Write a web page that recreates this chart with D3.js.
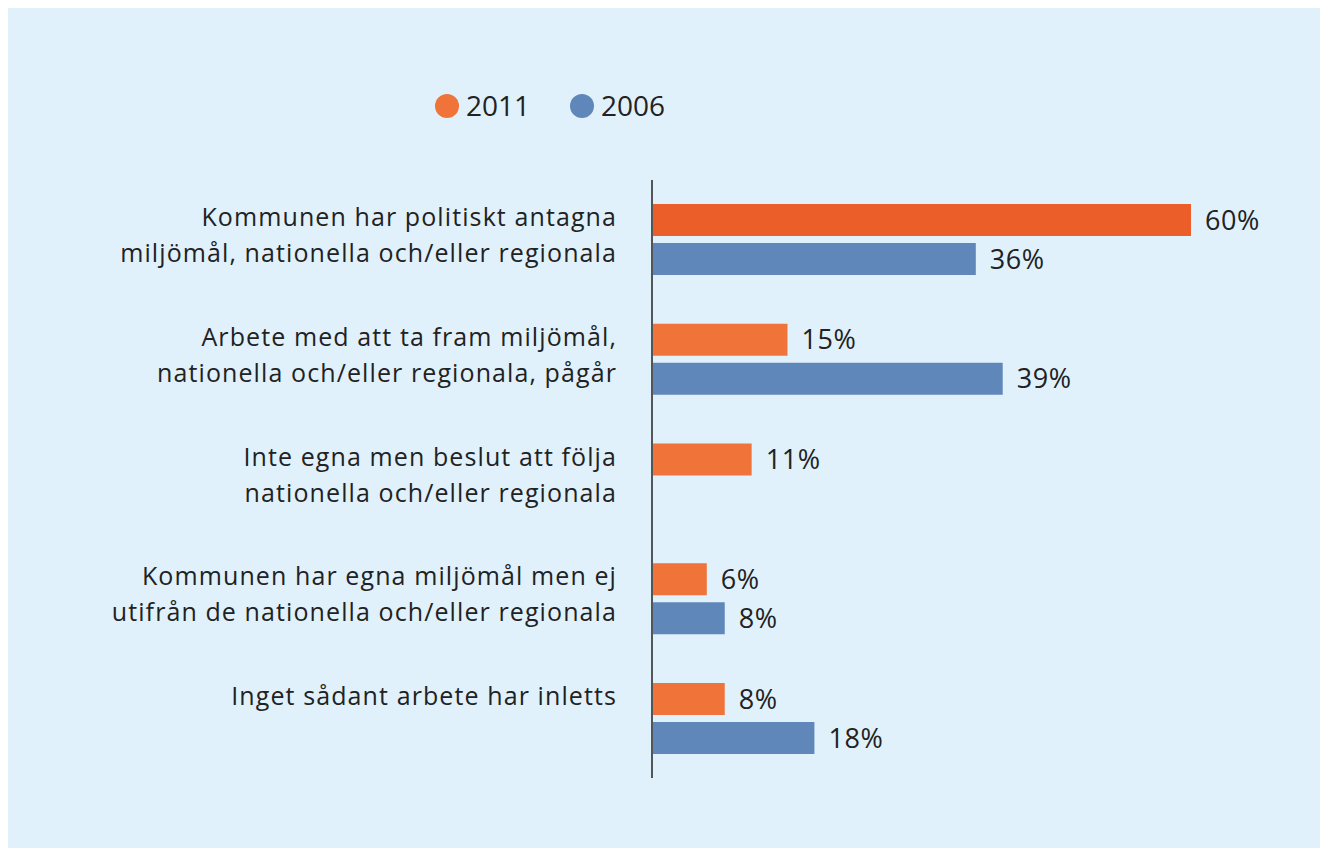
<!DOCTYPE html>
<html lang="sv">
<meta charset="utf-8">
<head>
    <script src='https://d3js.org/d3.v7.min.js'></script>
    <style>
        body { margin: 0; background: #fff; }
        text { font-family: "Open Sans", Lato, sans-serif; font-weight: 400; fill: #222; }
    </style>
</head>
<body>
</body>

<script>
    var width = 1328, height = 856;

    // data
    var categories = [
        ['Kommunen har politiskt antagna', 'miljömål, nationella och/eller regionala'],
        ['Arbete med att ta fram miljömål,', 'nationella och/eller regionala, pågår'],
        ['Inte egna men beslut att följa', 'nationella och/eller regionala'],
        ['Kommunen har egna miljömål men ej', 'utifrån de nationella och/eller regionala'],
        ['Inget sådant arbete har inletts']
    ];
    var series = ['2011', '2006'];
    var values2011 = [60, 15, 11, 6, 8];
    var values2006 = [36, 39, null, 8, 18];

    var colors = {'2011': '#f07339', '2006': '#5f87ba'};
    var highlight = '#eb5e29';

    var svg = d3.select('body').append('svg').attr('width', width).attr('height', height);

    // panel
    svg.append('rect').attr('x', 8).attr('y', 8).attr('width', 1312).attr('height', 840)
        .attr('fill', '#e0f1fc');

    var x = d3.scaleLinear().domain([0, 60]).range([653, 1191]);
    var y = d3.scaleBand().domain(d3.range(categories.length)).range([204, 204 + 5 * 119.75]);
    var ySub = d3.scaleBand().domain(series).range([0, 71]).paddingInner(0.18);

    var rows = [];
    categories.forEach(function(c, i) {
        rows.push({cat: i, s: '2011', v: values2011[i]});
        rows.push({cat: i, s: '2006', v: values2006[i]});
    });
    rows = rows.filter(function(d) { return d.v != null; });

    svg.selectAll('rect.bar').data(rows).join('rect')
        .attr('class', 'bar')
        .attr('x', x(0))
        .attr('y', function(d) { return y(d.cat) + ySub(d.s); })
        .attr('width', function(d) { return x(d.v) - x(0); })
        .attr('height', ySub.bandwidth())
        .attr('fill', function(d) { return (d.cat === 0 && d.s === '2011') ? highlight : colors[d.s]; });

    svg.selectAll('text.val').data(rows).join('text')
        .attr('class', 'val')
        .attr('x', function(d) { return x(d.v) + 14; })
        .attr('y', function(d) { return y(d.cat) + ySub(d.s) + ySub.bandwidth() / 2; })
        .attr('dy', '0.36em')
        .attr('font-size', 27)
        .attr('letter-spacing', 0.6)
        .text(function(d) { return d.v + '%'; });

    // category labels
    var lab = svg.selectAll('text.cat').data(categories).join('text')
        .attr('class', 'cat')
        .attr('text-anchor', 'end')
        .attr('font-size', 25)
        .attr('letter-spacing', 1.1)
        .attr('x', 617)
        .attr('y', function(d, i) { return y(i) + 22; });
    lab.selectAll('tspan').data(function(d) { return d; }).join('tspan')
        .attr('x', 617)
        .attr('dy', function(d, j) { return j === 0 ? 0 : 36; })
        .text(function(d) { return d; });

    // axis line
    svg.append('line').attr('x1', 652).attr('x2', 652).attr('y1', 180).attr('y2', 778)
        .attr('stroke', '#222').attr('stroke-width', 1.5);

    // legend
    var legX = [447, 582];
    var leg = svg.selectAll('g.leg').data(series).join('g')
        .attr('class', 'leg')
        .attr('transform', function(d, i) { return 'translate(' + legX[i] + ',106)'; });
    leg.append('circle').attr('r', 12).attr('fill', function(d) { return colors[d]; });
    leg.append('text').attr('x', 19).attr('dy', '0.36em').attr('font-size', 28)
        .text(function(d) { return d; });

    console.log('ready..');
</script>
</html>
